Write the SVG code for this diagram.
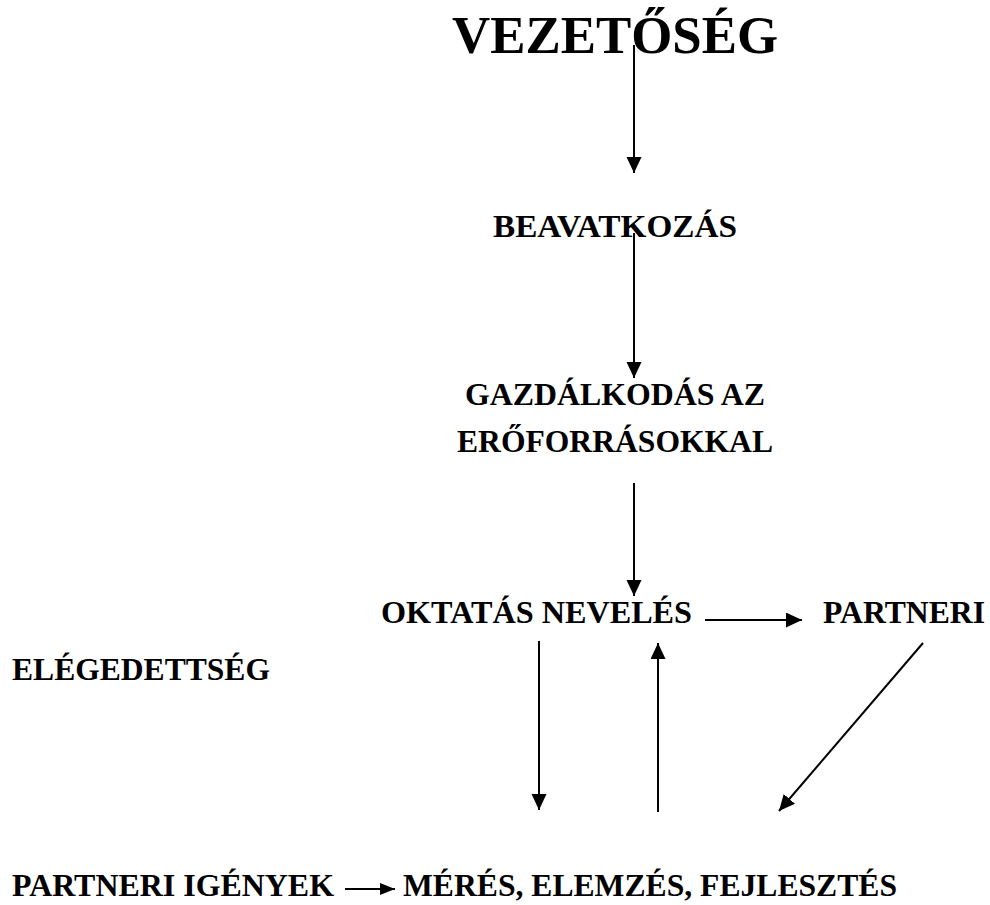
<svg xmlns="http://www.w3.org/2000/svg" width="990" height="905" viewBox="0 0 990 905">
<style>
text{font-family:"Liberation Serif","Times New Roman",serif;font-weight:bold;fill:#000}
.t{font-size:31.5px}
.conn line{stroke:#000;stroke-width:2;fill:none}
</style>
<defs>
<marker id="ah" markerUnits="userSpaceOnUse" markerWidth="16" markerHeight="16" refX="16" refY="7.5" orient="auto">
<path d="M0,0 L16,7.5 L0,15 z" fill="#000"/>
</marker>
<marker id="ahs" markerUnits="userSpaceOnUse" markerWidth="15" markerHeight="12" refX="15" refY="6" orient="auto">
<path d="M0,0 L15,6 L0,12 z" fill="#000"/>
</marker>
</defs>
<rect width="990" height="905" fill="#fff"/>
<g id="vezetoseg"><text x="452" y="53" font-size="53" textLength="326" lengthAdjust="spacingAndGlyphs">VEZETŐSÉG</text></g>
<g id="beavatkozas"><text class="t" x="493" y="237" textLength="244" lengthAdjust="spacingAndGlyphs">BEAVATKOZÁS</text></g>
<g id="gazdalkodas">
<text class="t" x="465" y="405" textLength="300" lengthAdjust="spacingAndGlyphs">GAZDÁLKODÁS AZ</text>
<text class="t" x="457" y="452" textLength="316" lengthAdjust="spacingAndGlyphs">ERŐFORRÁSOKKAL</text>
</g>
<g id="oktatas"><text class="t" x="381" y="623" textLength="311" lengthAdjust="spacingAndGlyphs">OKTATÁS NEVELÉS</text></g>
<g id="partneri"><text class="t" x="823" y="623" textLength="162" lengthAdjust="spacingAndGlyphs">PARTNERI</text></g>
<g id="elegedettseg"><text class="t" x="12" y="680" textLength="258" lengthAdjust="spacingAndGlyphs">ELÉGEDETTSÉG</text></g>
<g id="partneri-igenyek"><text class="t" x="12" y="896" textLength="322" lengthAdjust="spacingAndGlyphs">PARTNERI IGÉNYEK</text></g>
<g id="meres"><text class="t" x="403" y="896" textLength="494" lengthAdjust="spacingAndGlyphs">MÉRÉS, ELEMZÉS, FEJLESZTÉS</text></g>
<g id="connectors" class="conn">
<line x1="634" y1="45" x2="634" y2="173" marker-end="url(#ah)"/>
<line x1="634" y1="233" x2="634" y2="378" marker-end="url(#ah)"/>
<line x1="634" y1="483" x2="634" y2="596" marker-end="url(#ah)"/>
<line x1="705" y1="620" x2="802" y2="620" marker-end="url(#ah)"/>
<line x1="539" y1="641" x2="539" y2="810" marker-end="url(#ah)"/>
<line x1="658" y1="812" x2="658" y2="643" marker-end="url(#ah)"/>
<line x1="923" y1="643" x2="779" y2="811" marker-end="url(#ah)"/>
<line x1="345" y1="889" x2="395" y2="889" marker-end="url(#ahs)"/>
</g>
</svg>
